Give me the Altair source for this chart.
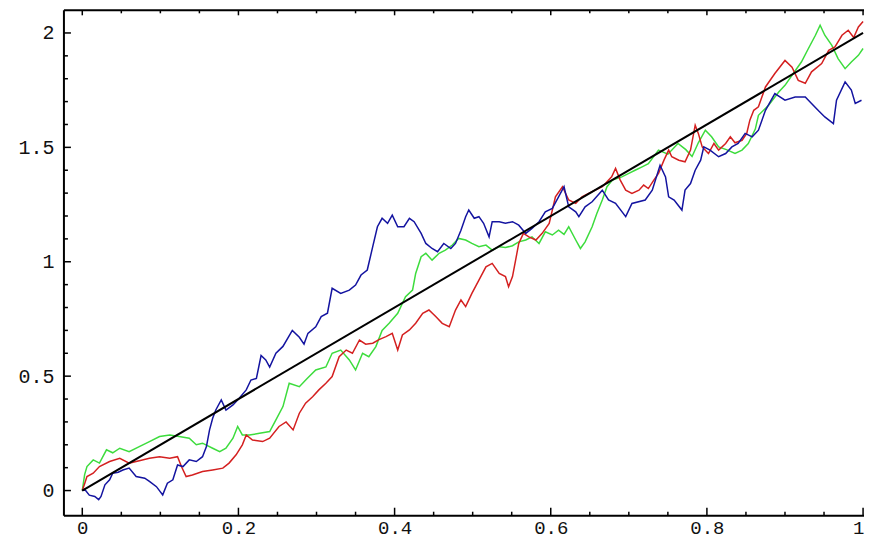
import altair as alt
import pandas as pd

# ---------------- data ----------------
blue_x = [0.000, 0.003, 0.009, 0.016, 0.021, 0.024, 0.029, 0.035, 0.039, 0.046, 0.052, 0.060, 0.069, 0.080,
          0.086, 0.095, 0.103, 0.109, 0.116, 0.122, 0.129, 0.137, 0.146, 0.154, 0.159, 0.163, 0.167, 0.171,
          0.178, 0.184, 0.193, 0.201, 0.210, 0.216, 0.223, 0.229, 0.235, 0.240, 0.248, 0.257, 0.269, 0.278,
          0.284, 0.289, 0.299, 0.306, 0.314, 0.320, 0.331, 0.342, 0.350, 0.357, 0.365, 0.372, 0.378, 0.384,
          0.391, 0.397, 0.404, 0.412, 0.419, 0.425, 0.434, 0.440, 0.448, 0.455, 0.463, 0.472, 0.478, 0.485,
          0.491, 0.495, 0.502, 0.508, 0.514, 0.521, 0.525, 0.534, 0.542, 0.551, 0.559, 0.568, 0.576, 0.585,
          0.593, 0.602, 0.610, 0.617, 0.623, 0.632, 0.636, 0.644, 0.653, 0.666, 0.674, 0.683, 0.696, 0.704,
          0.721, 0.730, 0.740, 0.747, 0.751, 0.758, 0.768, 0.772, 0.779, 0.785, 0.792, 0.796, 0.804, 0.815,
          0.824, 0.832, 0.840, 0.849, 0.858, 0.866, 0.875, 0.887, 0.900, 0.913, 0.926, 0.934, 0.943, 0.951,
          0.962, 0.966, 0.977, 0.985, 0.990, 0.998]
blue_y = [0.000, 0.006, -0.020, -0.026, -0.040, -0.026, 0.025, 0.047, 0.076, 0.080, 0.090, 0.098, 0.061, 0.054,
          0.040, 0.017, -0.019, 0.032, 0.047, 0.112, 0.105, 0.134, 0.127, 0.148, 0.192, 0.265, 0.316, 0.352,
          0.396, 0.352, 0.374, 0.403, 0.440, 0.483, 0.490, 0.590, 0.571, 0.540, 0.600, 0.630, 0.700, 0.670,
          0.640, 0.687, 0.716, 0.760, 0.775, 0.884, 0.862, 0.876, 0.898, 0.942, 0.964, 1.066, 1.153, 1.190,
          1.168, 1.204, 1.153, 1.153, 1.190, 1.175, 1.124, 1.080, 1.058, 1.044, 1.080, 1.058, 1.080, 1.138,
          1.197, 1.226, 1.190, 1.197, 1.168, 1.109, 1.175, 1.175, 1.168, 1.175, 1.160, 1.124, 1.146, 1.175,
          1.218, 1.233, 1.284, 1.328, 1.240, 1.218, 1.197, 1.240, 1.262, 1.313, 1.270, 1.255, 1.197, 1.255,
          1.270, 1.313, 1.422, 1.371, 1.284, 1.270, 1.226, 1.313, 1.342, 1.400, 1.444, 1.502, 1.488, 1.459,
          1.473, 1.502, 1.517, 1.561, 1.546, 1.575, 1.662, 1.735, 1.706, 1.720, 1.720, 1.692, 1.660, 1.633,
          1.604, 1.706, 1.786, 1.750, 1.692, 1.706]

green_x = [0.000, 0.003, 0.006, 0.014, 0.022, 0.031, 0.039, 0.048, 0.060, 0.073, 0.086, 0.099, 0.112, 0.124,
           0.137, 0.146, 0.154, 0.167, 0.176, 0.184, 0.193, 0.199, 0.205, 0.214, 0.227, 0.240, 0.248, 0.257,
           0.265, 0.278, 0.288, 0.299, 0.312, 0.320, 0.331, 0.342, 0.350, 0.359, 0.367, 0.376, 0.384, 0.393,
           0.404, 0.414, 0.423, 0.427, 0.434, 0.440, 0.448, 0.457, 0.465, 0.474, 0.482, 0.491, 0.499, 0.508,
           0.517, 0.525, 0.534, 0.542, 0.551, 0.559, 0.568, 0.576, 0.585, 0.593, 0.602, 0.610, 0.617, 0.623,
           0.632, 0.638, 0.644, 0.653, 0.659, 0.666, 0.672, 0.679, 0.691, 0.700, 0.708, 0.717, 0.725, 0.738,
           0.750, 0.763, 0.773, 0.781, 0.789, 0.798, 0.806, 0.815, 0.825, 0.836, 0.845, 0.853, 0.862, 0.866,
           0.879, 0.892, 0.900, 0.909, 0.921, 0.930, 0.939, 0.945, 0.951, 0.960, 0.968, 0.977, 0.985, 0.994,
           1.000]
green_y = [0.000, 0.070, 0.105, 0.134, 0.120, 0.178, 0.165, 0.185, 0.170, 0.192, 0.214, 0.236, 0.243, 0.236,
           0.229, 0.200, 0.207, 0.185, 0.170, 0.185, 0.229, 0.280, 0.243, 0.243, 0.250, 0.258, 0.309, 0.367,
           0.469, 0.454, 0.490, 0.527, 0.540, 0.600, 0.614, 0.571, 0.527, 0.600, 0.585, 0.629, 0.700, 0.731,
           0.775, 0.847, 0.876, 0.949, 1.022, 1.037, 1.007, 1.037, 1.051, 1.073, 1.102, 1.095, 1.080, 1.066,
           1.073, 1.051, 1.066, 1.062, 1.070, 1.087, 1.095, 1.109, 1.080, 1.131, 1.117, 1.138, 1.120, 1.153,
           1.095, 1.058, 1.087, 1.153, 1.211, 1.270, 1.328, 1.357, 1.371, 1.386, 1.400, 1.415, 1.429, 1.488,
           1.470, 1.517, 1.490, 1.460, 1.520, 1.575, 1.546, 1.502, 1.490, 1.473, 1.488, 1.517, 1.580, 1.640,
           1.684, 1.742, 1.771, 1.815, 1.873, 1.932, 1.990, 2.034, 1.990, 1.946, 1.888, 1.844, 1.873, 1.902,
           1.932]

red_x = [0.000, 0.003, 0.006, 0.014, 0.022, 0.035, 0.048, 0.060, 0.073, 0.086, 0.099, 0.112, 0.122, 0.127,
         0.133, 0.141, 0.154, 0.167, 0.180, 0.188, 0.197, 0.205, 0.210, 0.218, 0.231, 0.240, 0.252, 0.261,
         0.270, 0.278, 0.286, 0.295, 0.303, 0.312, 0.320, 0.329, 0.338, 0.346, 0.355, 0.363, 0.372, 0.380,
         0.389, 0.397, 0.404, 0.410, 0.419, 0.427, 0.436, 0.444, 0.453, 0.461, 0.470, 0.478, 0.485, 0.491,
         0.499, 0.508, 0.517, 0.525, 0.534, 0.542, 0.546, 0.551, 0.555, 0.559, 0.565, 0.572, 0.581, 0.589,
         0.598, 0.606, 0.615, 0.623, 0.632, 0.640, 0.649, 0.657, 0.666, 0.678, 0.683, 0.689, 0.696, 0.704,
         0.713, 0.719, 0.725, 0.732, 0.738, 0.745, 0.751, 0.755, 0.764, 0.772, 0.779, 0.785, 0.789, 0.794,
         0.802, 0.809, 0.815, 0.824, 0.830, 0.836, 0.845, 0.851, 0.855, 0.860, 0.866, 0.875, 0.887, 0.900,
         0.909, 0.917, 0.926, 0.934, 0.947, 0.956, 0.964, 0.973, 0.981, 0.988, 0.994, 1.000]
red_y = [0.000, 0.030, 0.061, 0.076, 0.105, 0.127, 0.141, 0.120, 0.130, 0.141, 0.148, 0.141, 0.148, 0.105,
         0.061, 0.068, 0.083, 0.090, 0.098, 0.120, 0.156, 0.200, 0.243, 0.221, 0.214, 0.229, 0.280, 0.300,
         0.265, 0.338, 0.382, 0.410, 0.440, 0.469, 0.498, 0.585, 0.614, 0.600, 0.658, 0.640, 0.644, 0.660,
         0.673, 0.687, 0.614, 0.680, 0.702, 0.731, 0.775, 0.789, 0.760, 0.731, 0.716, 0.789, 0.833, 0.804,
         0.862, 0.920, 0.978, 0.993, 0.949, 0.935, 0.891, 0.935, 1.007, 1.080, 1.124, 1.109, 1.095, 1.124,
         1.168, 1.284, 1.328, 1.270, 1.255, 1.284, 1.300, 1.313, 1.328, 1.371, 1.408, 1.357, 1.313, 1.299,
         1.313, 1.335, 1.320, 1.357, 1.386, 1.444, 1.488, 1.459, 1.444, 1.437, 1.488, 1.597, 1.561, 1.502,
         1.473, 1.517, 1.488, 1.517, 1.546, 1.520, 1.531, 1.561, 1.619, 1.662, 1.677, 1.764, 1.823, 1.880,
         1.850, 1.793, 1.780, 1.830, 1.866, 1.924, 1.939, 1.990, 2.012, 1.980, 2.026, 2.050]

mean_x = [0.0, 1.0]
mean_y = [0.0, 2.0]

x_labels = [0, 0.2, 0.4, 0.6, 0.8, 1]
y_labels = [0, 0.5, 1, 1.5, 2]

# ---------------- layout ----------------
W, H = 801, 506
X_DOM = [-0.0235, 1.0012]
Y_DOM = [-0.110, 2.099]
FONT = "Liberation Mono"

xs = alt.Scale(domain=X_DOM, nice=False, zero=False)
ys = alt.Scale(domain=Y_DOM, nice=False, zero=False)

AX_X = alt.Axis(values=x_labels, format="~g", ticks=False, domain=False, grid=False, title=None,
                labelFont=FONT, labelFontSize=19, labelColor="#111", labelPadding=3, labelFlush=False,
                labelOffset={"condition": {"test": "datum.value == 1", "value": -5}, "value": 0})
AX_Y = alt.Axis(values=y_labels, format="~g", ticks=False, domain=False, grid=False, title=None,
                labelFont=FONT, labelFontSize=20, labelColor="#111", labelPadding=10)


def path(xv, yv, color, width):
    df = pd.DataFrame({"x": xv, "y": yv, "i": list(range(len(xv)))})
    return alt.Chart(df).mark_line(color=color, strokeWidth=width, clip=True).encode(
        x=alt.X("x:Q", scale=xs, axis=AX_X),
        y=alt.Y("y:Q", scale=ys, axis=AX_Y),
        order="i:Q",
    )


# tick marks (inside the frame)
step05 = [round(k * 0.05, 2) for k in range(21)]
bot_major = [v for v in step05 if abs(v * 5 - round(v * 5)) < 1e-9]
bot_minor = [v for v in step05 if v not in bot_major]
left_vals = [round(k * 0.1, 1) for k in range(0, 21)]
left_major = [v for v in left_vals if abs(v * 2 - round(v * 2)) < 1e-9]
left_minor = [v for v in left_vals if v not in left_major]


def xticks(vals, y0, y1):
    return alt.Chart(pd.DataFrame({"x": vals})).mark_rule(color="black", strokeWidth=1.5).encode(
        x=alt.X("x:Q", scale=xs, axis=AX_X), y=alt.value(y0), y2=alt.value(y1))


def yticks(vals, x0, x1):
    return alt.Chart(pd.DataFrame({"y": vals})).mark_rule(color="black", strokeWidth=1.5).encode(
        y=alt.Y("y:Q", scale=ys, axis=AX_Y), x=alt.value(x0), x2=alt.value(x1))


frame_df = pd.DataFrame({"k": [0]})
frame = [
    alt.Chart(frame_df).mark_rule(color="black", strokeWidth=2).encode(
        x=alt.value(0), x2=alt.value(W), y=alt.value(0)),
    alt.Chart(frame_df).mark_rule(color="black", strokeWidth=2).encode(
        x=alt.value(0), x2=alt.value(W), y=alt.value(H)),
    alt.Chart(frame_df).mark_rule(color="black", strokeWidth=2).encode(
        x=alt.value(0), y=alt.value(0), y2=alt.value(H)),
]

chart = alt.layer(
    path(green_x, green_y, "#3ddc3d", 1.5),
    path(red_x, red_y, "#d42020", 1.5),
    path(blue_x, blue_y, "#1414a0", 1.5),
    path(mean_x, mean_y, "black", 2),
    xticks(bot_major, H, H - 8),
    xticks(bot_minor, H, H - 4),
    xticks(bot_major, 0, 5),
    xticks(bot_minor, 0, 3),
    yticks(left_major, 0, 7),
    yticks(left_minor, 0, 4),
    *frame,
).properties(
    width=W,
    height=H,
    padding={"left": 56, "top": 2, "right": 1, "bottom": 26},
    autosize=alt.AutoSizeParams(type="none"),
    background="white",
).configure_view(strokeWidth=0)

chart.save("out.html", embed_options={"renderer": "svg", "actions": False})
